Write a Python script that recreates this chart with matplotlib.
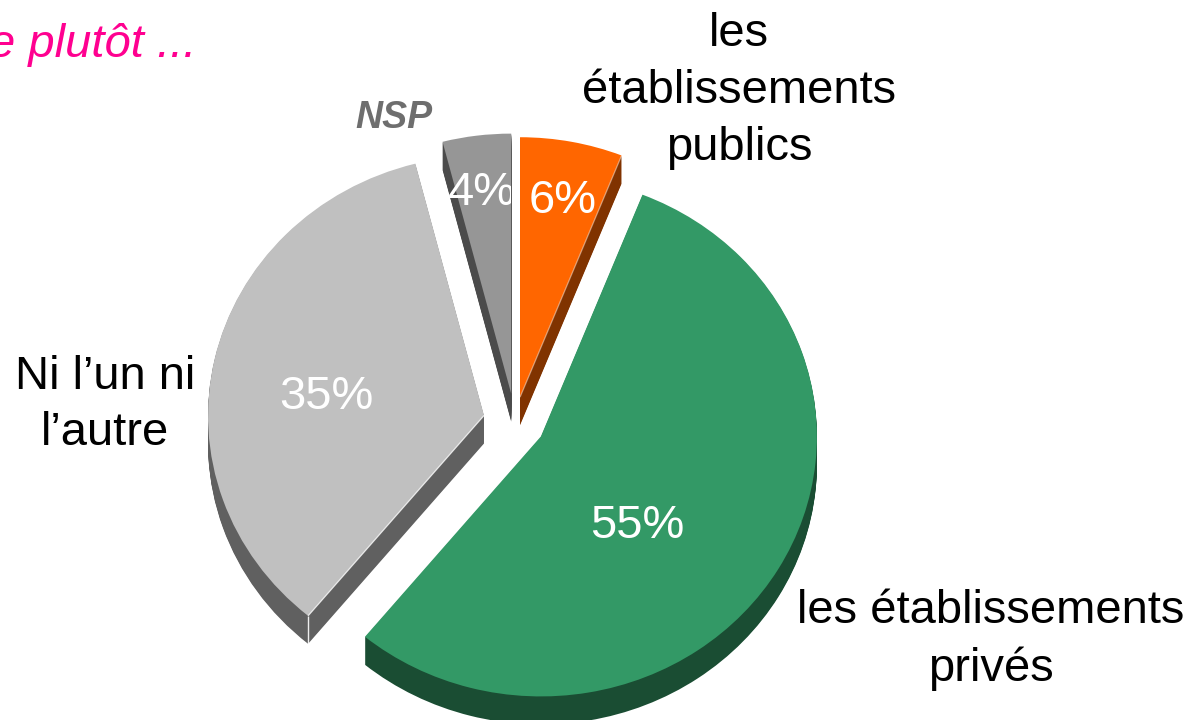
import numpy as np
import matplotlib
matplotlib.use('Agg')
import matplotlib.pyplot as plt
from matplotlib.transforms import Bbox

plt.rcParams['font.family'] = ['Liberation Sans', 'DejaVu Sans']

# données
labels = ['les\nétablissements\npublics', 'les établissements\nprivés', 'Ni l’un ni\nl’autre', 'NSP']
values = [6, 55, 35, 4]

# style
colors = ['#FF6600', '#339966', '#C0C0C0', '#969696']
dark_colors = ['#803300', '#1A4D33', '#606060', '#4B4B4B']
explode = [0.097, 0.109, 0.115, 0.110]

W, H = 1196, 720
cx, cy = 515, 422   # centre du camembert en pixels
rx, ry = 276, 260   # rayons en pixels
depth = 28

fig = plt.figure(figsize=(W / 100, H / 100), dpi=100, facecolor='white')
ax = fig.add_axes([0, 0, 1, 1])

# épaisseur : on empile des camemberts sombres décalés vers le bas
for d in range(depth, 0, -1):
    ax.pie(values, explode=explode, colors=dark_colors, startangle=90, counterclock=False,
           center=(0, -d / ry), radius=1, normalize=True, wedgeprops={'linewidth': 0})

wedges, _ = ax.pie(values, explode=explode, colors=colors, startangle=90, counterclock=False,
                   center=(0, 0), radius=1, normalize=True, wedgeprops={'linewidth': 0})

ax.set_aspect('auto')
ax.set_xlim(-cx / rx, (W - cx) / rx)
ax.set_ylim(-(H - cy) / ry, cy / ry)
ax.axis('off')

# liseré clair sur le bord avant des parts orange et gris clair
w = wedges[0]
a = np.deg2rad(w.theta1)
ax.plot([w.center[0], w.center[0] + np.cos(a)], [w.center[1], w.center[1] + np.sin(a)],
        color='white', lw=0.9, alpha=0.45, solid_capstyle='butt')

w = wedges[2]
a = np.deg2rad(w.theta2)
xe, ye = w.center[0] + np.cos(a), w.center[1] + np.sin(a)
ax.plot([w.center[0], xe], [w.center[1], ye], color='white', lw=0.9, alpha=0.8, solid_capstyle='butt')
ax.plot([xe, xe], [ye, ye - depth / ry], color='white', lw=1.0, alpha=0.9, solid_capstyle='butt')


def txt(x, y, s, **kw):
    return fig.text(x / W, 1 - y / H, s, **kw)


# pourcentages
pct_pos = [(563, 201), (637, 526), (326, 397), (482, 193)]
for i, (v, pos) in enumerate(zip(values, pct_pos)):
    t = txt(pos[0], pos[1], f'{v}%', color='white', fontsize=33.9, ha='center', va='center')
    if i == 3:
        # le "%" est coupé sur le bord droit de la part
        t.set_clip_box(Bbox([[0, 0], [511, H]]))
        t.set_clip_on(True)

# étiquettes
lab_kw = dict(color='black', fontsize=33.9, ha='center', va='center', linespacing=1.38)
txt(739, 91, labels[0], **lab_kw)
txt(991, 640, labels[1], **lab_kw)
txt(105, 405, labels[2], **lab_kw)
txt(394, 118, labels[3], color='#6E6E6E', fontsize=27, fontweight='bold', fontstyle='italic',
    ha='center', va='center')

txt(-11, 45, 'e plutôt ...', color='#FF0090', fontsize=33.9, fontstyle='italic', ha='left', va='center')

fig.savefig('out.png', dpi=100)
